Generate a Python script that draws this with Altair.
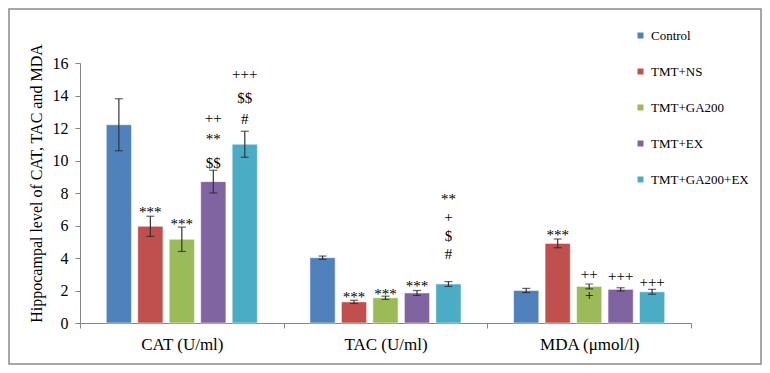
import altair as alt
import pandas as pd

groups = ["CAT (U/ml)", "TAC (U/ml)", "MDA (μmol/l)"]
series = ["Control", "TMT+NS", "TMT+GA200", "TMT+EX", "TMT+GA200+EX"]
colors = ["#4F81BD", "#C0504D", "#9BBB59", "#8064A2", "#4BACC6"]

cat_vals = [12.2, 5.95, 5.15, 8.7, 11.0]
cat_err = [1.6, 0.62, 0.75, 0.7, 0.8]
tac_vals = [4.02, 1.3, 1.55, 1.85, 2.4]
tac_err = [0.1, 0.1, 0.1, 0.15, 0.15]
mda_vals = [2.0, 4.9, 2.25, 2.07, 1.92]
mda_err = [0.13, 0.27, 0.15, 0.1, 0.15]

# significance marks: group, series, text, height (data units)
ann_group = ["CAT (U/ml)"] * 8 + ["TAC (U/ml)"] * 7 + ["MDA (μmol/l)"] * 5
ann_series = ["TMT+NS", "TMT+GA200", "TMT+EX", "TMT+EX", "TMT+EX",
              "TMT+GA200+EX", "TMT+GA200+EX", "TMT+GA200+EX",
              "TMT+NS", "TMT+GA200", "TMT+EX",
              "TMT+GA200+EX", "TMT+GA200+EX", "TMT+GA200+EX", "TMT+GA200+EX",
              "TMT+NS", "TMT+GA200", "TMT+GA200", "TMT+EX", "TMT+GA200+EX"]
ann_text = ["***", "***", "$$", "**", "++",
            "#", "$$", "+++",
            "***", "***", "***",
            "#", "$", "+", "**",
            "***", "++", "+", "+++", "+++"]
ann_y = [7.08, 6.34, 9.85, 11.57, 12.6,
         12.55, 13.85, 15.3,
         1.87, 2.03, 2.54,
         4.25, 5.35, 6.54, 7.88,
         5.68, 3.02, 1.72, 2.89, 2.54]

rows = []
for g, vals, errs in zip(groups, [cat_vals, tac_vals, mda_vals], [cat_err, tac_err, mda_err]):
    for s, v, e in zip(series, vals, errs):
        rows.append({"group": g, "series": s, "value": v, "lo": v - e, "hi": v + e})
df = pd.DataFrame(rows)
ann = pd.DataFrame({"group": ann_group, "series": ann_series, "label": ann_text, "ypos": ann_y})
ann_star = ann[ann["label"].str.contains(r"\*")]
ann_other = ann[~ann["label"].str.contains(r"\*")]

FONT = "Liberation Serif"

x_axis = alt.Axis(title=None, labelFont=FONT, labelFontSize=17, labelColor="black",
                  labelAngle=0, labelPadding=8, tickSize=5, tickBand="extent",
                  domainColor="#868686", tickColor="#868686")
y_axis = alt.Axis(title="Hippocampal level of CAT, TAC and MDA", values=list(range(0, 17, 2)),
                  grid=False, labelFont=FONT, labelFontSize=16, labelColor="black",
                  labelOverlap=False,
                  labelPadding=7, tickSize=5, domainColor="#868686", tickColor="#868686",
                  titleFont=FONT, titleFontSize=16, titleFontWeight="normal",
                  titleColor="black", titleAngle=270, titleX=-44, titleY=120,
                  titleAlign="center", titleBaseline="middle")
x_scale = alt.Scale(paddingInner=0, paddingOuter=0)
xo_scale = alt.Scale(paddingInner=0.2, paddingOuter=0.835)
y_scale = alt.Scale(domain=[0, 16])


def xenc():
    return alt.X("group:N", sort=groups, scale=x_scale, axis=x_axis)


def xoenc():
    return alt.XOffset("series:N", sort=series, scale=xo_scale)


def yenc(field):
    return alt.Y(field, scale=y_scale, axis=y_axis)


bars = alt.Chart(df).mark_bar(stroke="white", strokeOpacity=0.5, strokeWidth=1).encode(
    x=xenc(), xOffset=xoenc(), y=yenc("value:Q"),
    color=alt.Color("series:N", sort=series, scale=alt.Scale(domain=series, range=colors),
                    legend=alt.Legend(title=None, orient="none", legendX=554, legendY=-34,
                                      symbolType="square", symbolSize=36, symbolStrokeWidth=0,
                                      labelFont=FONT, labelFontSize=13, labelColor="black",
                                      rowPadding=22, labelOffset=4)),
)

err = alt.Chart(df).mark_rule(color="#333333", strokeWidth=1.2).encode(
    x=xenc(), xOffset=xoenc(), y=yenc("lo:Q"), y2="hi:Q")
cap_hi = alt.Chart(df).mark_tick(color="#222222", thickness=1.2, size=8).encode(
    x=xenc(), xOffset=xoenc(), y=yenc("hi:Q"))
cap_lo = alt.Chart(df).mark_tick(color="#222222", thickness=1.2, size=8).encode(
    x=xenc(), xOffset=xoenc(), y=yenc("lo:Q"))

txt_star = alt.Chart(ann_star).mark_text(font=FONT, fontSize=15, color="black", baseline="middle", dy=4).encode(
    x=xenc(), xOffset=xoenc(), y=yenc("ypos:Q"), text="label:N")
txt_other = alt.Chart(ann_other).mark_text(font=FONT, fontSize=15, color="black", baseline="middle").encode(
    x=xenc(), xOffset=xoenc(), y=yenc("ypos:Q"), text="label:N")

frame = alt.Chart(pd.DataFrame({"f": [0]})).mark_rect(fill=None, stroke="#8a8a8a", strokeWidth=1.5).encode(
    x=alt.value(-71), x2=alt.value(681), y=alt.value(-54), y2=alt.value(301))

chart = alt.layer(bars, err, cap_hi, cap_lo, txt_star, txt_other, frame).properties(
    width=611, height=260,
    autosize=alt.AutoSizeParams(type="none"),
    padding={"left": 72, "top": 55, "right": 71, "bottom": 42},
    background="white",
).configure(font=FONT).configure_view(stroke=None)

chart.save("out.html", embed_options={"renderer": "svg", "actions": False})
